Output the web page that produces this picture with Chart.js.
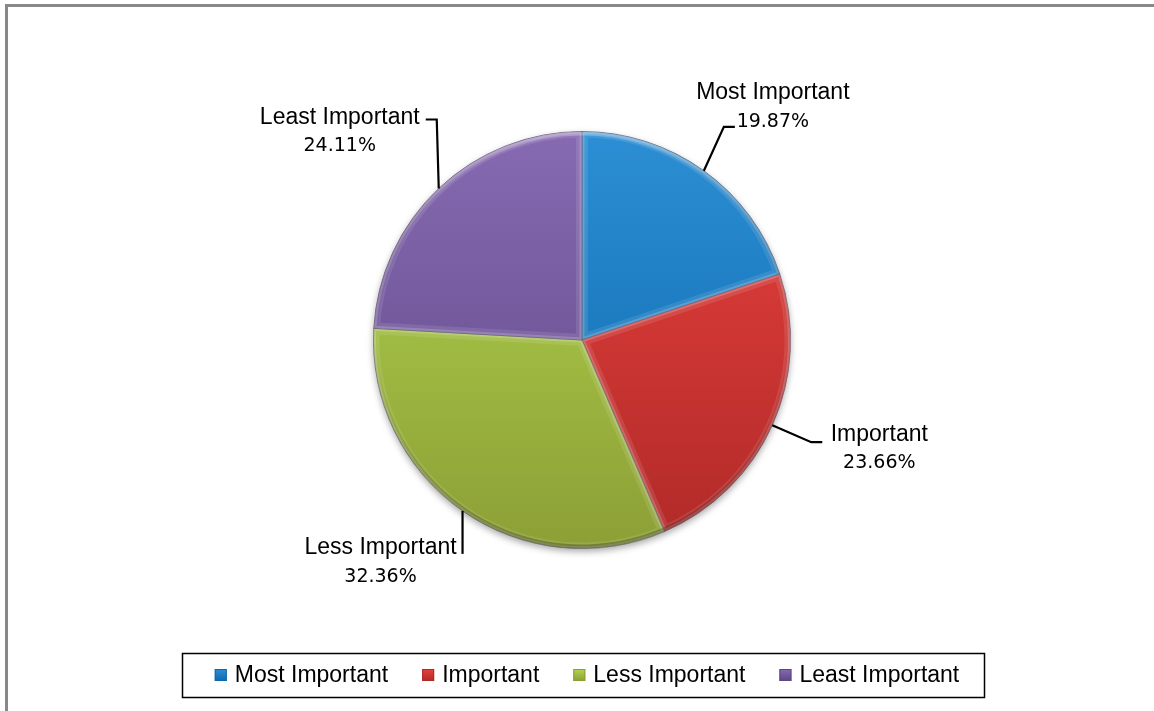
<!DOCTYPE html>
<html>
<head>
<meta charset="utf-8">
<title>Importance pie</title>
<script src="https://cdn.jsdelivr.net/npm/chart.js@4.4.1/dist/chart.umd.min.js"></script>
<style>
  html, body { margin: 0; padding: 0; background: #fff; }
  canvas { display: block; }
</style>
</head>
<body>
<canvas id="pieChart" width="1154" height="711"></canvas>
<script>
const categories = ["Most Important", "Important", "Less Important", "Least Important"];
const shares = [19.87, 23.66, 32.36, 24.11];
const shareLabels = ["19.87%", "23.66%", "32.36%", "24.11%"];

// top / bottom colours of each slice (bevel-ish gradient)
const topColors = ["#2c8ed4", "#e8413e", "#b3d64e", "#876ab2"];
const bottomColors = ["#0d68ab", "#b02a28", "#8c9f36", "#5d4785"];

const nameFont = "23px 'Liberation Sans', Arial, sans-serif";
const valueFont = "19px 'DejaVu Sans', sans-serif";

// leader line layout per slice: elbow offset from the slice edge, horizontal tail,
// text block centre relative to tail end, first line dy
const leaders = [
  { ex: 20, ey: -44, tail: 11, tx: 38, ty: -34 },
  { ex: 39, ey: 17, tail: 11, tx: 57, ty: -8 },
  { ex: 0, ey: 43, tail: 0, tx: -82, ty: -6 },
  { ex: -2, ey: -69, tail: -11, tx: -86, ty: -2 },
];

function sliceFill(c) {
  const area = c.chart.chartArea;
  const i = c.dataIndex;
  if (!area) return topColors[i];
  const g = c.chart.ctx.createLinearGradient(0, area.top, 0, area.bottom);
  g.addColorStop(0, topColors[i]);
  g.addColorStop(1, bottomColors[i]);
  return g;
}

const framePlugin = {
  id: "frame",
  beforeDraw(chart) {
    const ctx = chart.ctx;
    ctx.save();
    ctx.fillStyle = "#fff";
    ctx.fillRect(0, 0, chart.width, chart.height);
    ctx.fillStyle = "#888";
    ctx.fillRect(5, 4, 3, chart.height);
    ctx.fillRect(5, 4, chart.width, 3);
    ctx.restore();
  },
};

const bevelPlugin = {
  id: "bevel",
  beforeDatasetsDraw(chart) {
    const arc = chart.getDatasetMeta(0).data[0];
    if (!arc) return;
    const ctx = chart.ctx;
    ctx.save();
    ctx.shadowColor = "rgba(0,0,0,0.35)";
    ctx.shadowBlur = 7;
    ctx.shadowOffsetY = 3;
    ctx.fillStyle = "#fff";
    ctx.beginPath();
    ctx.arc(arc.x, arc.y, arc.outerRadius, 0, Math.PI * 2);
    ctx.fill();
    ctx.restore();
  },
  afterDatasetsDraw(chart) {
    const ctx = chart.ctx;
    chart.getDatasetMeta(0).data.forEach((el) => {
      const { x, y, startAngle, endAngle, outerRadius } = el;
      ctx.save();
      ctx.beginPath();
      ctx.moveTo(x, y);
      ctx.arc(x, y, outerRadius, startAngle, endAngle);
      ctx.closePath();
      ctx.clip();
      ctx.lineJoin = "round";
      ctx.lineWidth = 12;
      ctx.strokeStyle = "rgba(255,255,255,0.10)";
      ctx.stroke();
      ctx.lineWidth = 5;
      ctx.strokeStyle = "rgba(255,255,255,0.18)";
      ctx.stroke();
      // darker rim toward the bottom of the circle
      const rim = ctx.createLinearGradient(0, y - outerRadius, 0, y + outerRadius);
      rim.addColorStop(0, "rgba(255,255,255,0.25)");
      rim.addColorStop(0.5, "rgba(0,0,0,0)");
      rim.addColorStop(1, "rgba(0,0,0,0.25)");
      ctx.beginPath();
      ctx.arc(x, y, outerRadius - 2, startAngle, endAngle);
      ctx.lineWidth = 4;
      ctx.strokeStyle = rim;
      ctx.stroke();
      ctx.restore();
    });
  },
};

const labelPlugin = {
  id: "sliceLabels",
  afterDraw(chart) {
    const ctx = chart.ctx;
    ctx.save();
    chart.getDatasetMeta(0).data.forEach((el, i) => {
      const mid = (el.startAngle + el.endAngle) / 2;
      const px = el.x + Math.cos(mid) * el.outerRadius;
      const py = el.y + Math.sin(mid) * el.outerRadius;
      const L = leaders[i];
      const bx = px + L.ex, by = py + L.ey;
      const tx = bx + L.tail;
      ctx.strokeStyle = "#000";
      ctx.lineWidth = 2.2;
      ctx.beginPath();
      ctx.moveTo(px, py);
      ctx.lineTo(bx, by);
      ctx.lineTo(tx, by);
      ctx.stroke();

      ctx.fillStyle = "#000";
      ctx.textAlign = "center";
      ctx.textBaseline = "middle";
      ctx.font = nameFont;
      ctx.fillText(categories[i], tx + L.tx, by + L.ty);
      ctx.font = valueFont;
      ctx.fillText(shareLabels[i], tx + L.tx, by + L.ty + 29);
    });
    ctx.restore();
  },
};

const legendPlugin = {
  id: "boxLegend",
  afterDraw(chart) {
    const ctx = chart.ctx;
    ctx.save();
    ctx.strokeStyle = "#000";
    ctx.lineWidth = 1.5;
    ctx.strokeRect(182.5, 653.5, 802, 44);

    ctx.font = nameFont;
    ctx.textBaseline = "middle";
    ctx.textAlign = "left";
    const box = 12, gap = 8, spacing = 34;
    const widths = categories.map((c) => ctx.measureText(c).width);
    const total = widths.reduce((a, w) => a + box + gap + w, 0) + spacing * (categories.length - 1);
    let x = 587 - total / 2;
    const cy = 675;
    categories.forEach((c, i) => {
      const g = ctx.createLinearGradient(0, cy - box / 2, 0, cy + box / 2);
      g.addColorStop(0, topColors[i]);
      g.addColorStop(1, bottomColors[i]);
      ctx.fillStyle = g;
      ctx.fillRect(x, cy - box / 2, box, box);
      ctx.strokeStyle = bottomColors[i];
      ctx.lineWidth = 1;
      ctx.strokeRect(x + 0.5, cy - box / 2 + 0.5, box - 1, box - 1);
      ctx.fillStyle = "#000";
      ctx.fillText(c, x + box + gap, cy + 1);
      x += box + gap + widths[i] + spacing;
    });
    ctx.restore();
  },
};

const pieCtx = document.getElementById("pieChart").getContext("2d");

const pieChart = new Chart(pieCtx, {
  type: "pie",
  data: {
    labels: categories,
    datasets: [
      {
        data: shares,
        backgroundColor: sliceFill,
        borderColor: "rgba(40,30,60,0.55)",
        borderWidth: 1,
      },
    ],
  },
  options: {
    responsive: false,
    animation: false,
    layout: {
      padding: { top: 131, bottom: 162, left: 10, right: 0 },
    },
    plugins: {
      legend: { display: false },
      tooltip: { enabled: false },
    },
  },
  plugins: [framePlugin, bevelPlugin, labelPlugin, legendPlugin],
});
</script>
</body>
</html>
